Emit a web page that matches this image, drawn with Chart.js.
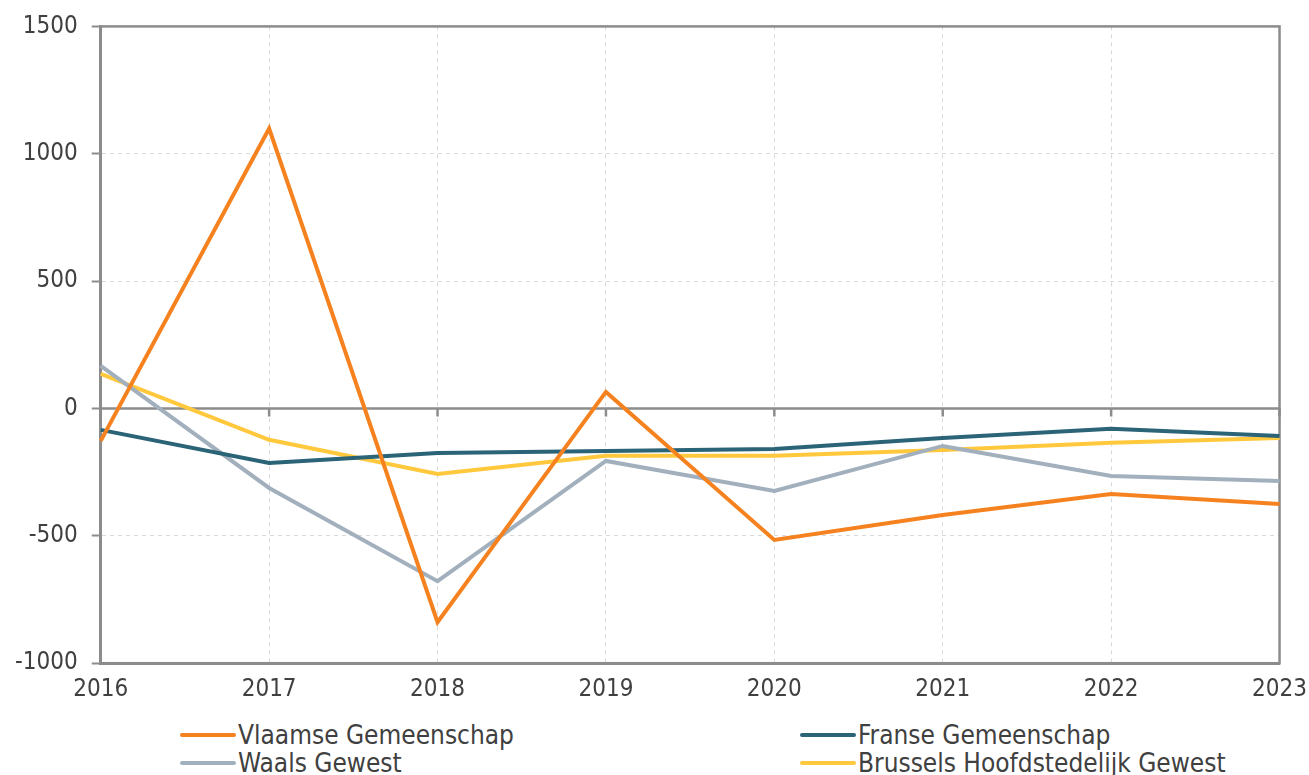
<!DOCTYPE html>
<html>
<head>
<meta charset="utf-8">
<script src="https://cdn.jsdelivr.net/npm/chart.js@4.4.1/dist/chart.umd.min.js"></script>
<style>
    body { margin: 0; background: #fff; font-family: "DejaVu Sans Condensed", "DejaVu Sans", sans-serif; }
    #wrap { position: relative; width: 1309px; height: 775px; overflow: hidden; }
    #box { position: absolute; left: 0; top: -2px; width: 1319px; height: 718px; }
    .leg { position: absolute; font-size: 26px; color: #404040; white-space: nowrap; line-height: 28px; height: 28px; }
    .leg span.sw { display: inline-block; width: 56px; height: 4px; border-radius: 2px; vertical-align: middle; margin-right: 2px; position: relative; top: -2px; }
</style>
</head>
<body>
<div id="wrap">
    <div id="box"><canvas id="lineChart"></canvas></div>
    <div id="legend"></div>
</div>
<script>
    //================================================================================================Data================================

    var years = ['2016', '2017', '2018', '2019', '2020', '2021', '2022', '2023'];

    var vlaamse = [-127, 1099, -839, 65, -516, -418, -336, -375];
    var franse = [-84, -214, -175, -167, -159, -116, -80, -108];
    var waals = [167, -312, -678, -206, -324, -147, -265, -285];
    var brussel = [136, -123, -257, -186, -186, -163, -135, -116];

    var seriesNames = ['Vlaamse Gemeenschap', 'Franse Gemeenschap', 'Waals Gewest', 'Brussels Hoofdstedelijk Gewest'];
    var seriesColors = ['#F5821F', '#2B6377', '#A2AFBD', '#FFC83D'];

    var axisColor = '#8C8C8C';
    var gridColor = '#D9D9D9';
    var textColor = '#404040';
    var fontName = 'DejaVu Sans Condensed';

    //================================================================================================Frame + zero line =================

    var framePlugin = {
        id: 'frame',
        beforeDatasetsDraw: function(chart) {
            var ctx = chart.ctx;
            var a = chart.chartArea;
            var x = chart.scales.x;
            var y = chart.scales.y;
            var y0 = y.getPixelForValue(0);
            ctx.save();
            ctx.strokeStyle = axisColor;
            ctx.lineWidth = 2.5;
            ctx.beginPath();
            ctx.moveTo(a.left, y0);
            ctx.lineTo(a.right, y0);
            for (var i = 0; i < x.ticks.length; i++) {
                var px = x.getPixelForTick(i);
                ctx.moveTo(px, y0);
                ctx.lineTo(px, y0 + 8);
            }
            ctx.stroke();
            ctx.strokeRect(a.left, a.top, a.right - a.left, a.bottom - a.top);
            ctx.restore();
        }
    };

    //================================================================================================Line Chart =================

    var allData = [vlaamse, franse, waals, brussel];
    var datasets = allData.map(function(v, k) {
        return {
            label: seriesNames[k],
            data: v,
            borderColor: seriesColors[k],
            backgroundColor: seriesColors[k],
            borderWidth: 4,
            pointRadius: 0,
            tension: 0,
            fill: false
        };
    });

    var chrt = document.getElementById('lineChart').getContext('2d');
    var config = {
        type: 'line',
        data: {
            labels: years,
            datasets: datasets
        },
        options: {
            responsive: true,
            maintainAspectRatio: false,
            animation: false,
            layout: { padding: { left: 1, right: 0, top: 17, bottom: 0 } },
            plugins: {
                legend: { display: false },
                tooltip: { enabled: false }
            },
            scales: {
                x: {
                    offset: false,
                    grid: {
                        color: gridColor,
                        drawTicks: false
                    },
                    border: { color: axisColor, width: 3, dash: [4, 4] },
                    ticks: {
                        color: textColor,
                        padding: 12,
                        maxRotation: 0,
                        font: { family: fontName, size: 24 }
                    }
                },
                y: {
                    min: -1000,
                    max: 1500,
                    grid: {
                        color: function(c) {
                            return c.tick && c.tick.value === 0 ? 'rgba(0,0,0,0)' : gridColor;
                        },
                        tickColor: axisColor,
                        tickLength: 9,
                        tickWidth: 2
                    },
                    border: { color: axisColor, width: 3, dash: [4, 4] },
                    ticks: {
                        stepSize: 500,
                        color: textColor,
                        padding: 14,
                        font: { family: fontName, size: 24 },
                        callback: function(v) { return String(v); }
                    }
                }
            }
        },
        plugins: [framePlugin]
    };

    var lineChart = new Chart(chrt, config);

    //================================================================================================Legend (two columns) =================

    var legPos = [[180, 721], [800, 721], [180, 749], [800, 749]];
    var legHolder = document.getElementById('legend');
    for (var i in seriesNames) {
        var d = document.createElement('div');
        d.className = 'leg';
        d.style.left = legPos[i][0] + 'px';
        d.style.top = legPos[i][1] + 'px';
        d.innerHTML = '<span class="sw" style="background:' + seriesColors[i] + '"></span>' + seriesNames[i];
        legHolder.appendChild(d);
    }
</script>
</body>
</html>
